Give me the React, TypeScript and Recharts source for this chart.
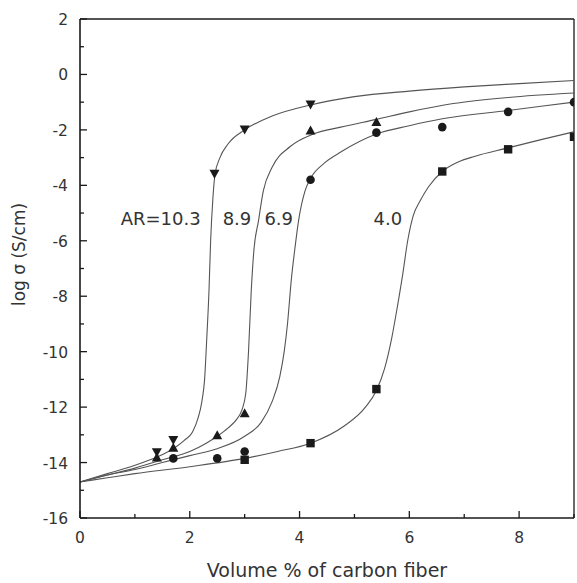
import {
  ComposedChart,
  Line,
  Scatter,
  XAxis,
  YAxis,
  ReferenceLine,
  ReferenceDot,
} from "recharts";

// measured points (volume %, log sigma)
const ar103X = [1.4, 1.7, 2.45, 3.0, 4.2];
const ar103Y = [-13.65, -13.2, -3.6, -2.0, -1.1];
const ar89X = [1.4, 1.7, 2.5, 3.0, 4.2, 5.4];
const ar89Y = [-13.8, -13.45, -13.0, -12.2, -2.0, -1.7];
const ar69X = [1.7, 2.5, 3.0, 4.2, 5.4, 6.6, 7.8, 9.0];
const ar69Y = [-13.85, -13.85, -13.6, -3.8, -2.1, -1.9, -1.35, -1.0];
const ar40X = [3.0, 4.2, 5.4, 6.6, 7.8, 9.0];
const ar40Y = [-13.9, -13.3, -11.35, -3.5, -2.7, -2.25];

// fitted curves
const fit103X = [0, 0.5, 1.0, 1.4, 1.7, 1.9, 2.05, 2.15, 2.22, 2.27, 2.31, 2.35, 2.38, 2.42, 2.46, 2.55, 2.7, 3.0, 3.5, 4.2, 5.0, 6.0, 7.0, 8.0, 9.0];
const fit103Y = [-14.7, -14.4, -14.1, -13.8, -13.5, -13.2, -12.9, -12.4, -11.8, -11.0, -9.5, -7.8, -6.0, -4.5, -3.6, -3.0, -2.5, -2.0, -1.5, -1.1, -0.8, -0.6, -0.45, -0.33, -0.22];
const fit89X = [0, 0.5, 1.0, 1.5, 2.0, 2.3, 2.5, 2.7, 2.85, 2.95, 3.02, 3.07, 3.12, 3.17, 3.25, 3.34, 3.5, 3.83, 4.25, 4.75, 5.4, 6.0, 6.8, 7.8, 9.0];
const fit89Y = [-14.7, -14.45, -14.2, -13.9, -13.6, -13.3, -13.05, -12.75, -12.45, -12.1, -11.5, -10.0, -7.8, -6.3, -5.3, -4.2, -3.35, -2.6, -2.15, -1.9, -1.62, -1.35, -1.05, -0.83, -0.67];
const fit69X = [0, 0.5, 1.0, 1.5, 2.0, 2.5, 3.0, 3.3, 3.5, 3.64, 3.72, 3.78, 3.85, 3.92, 3.98, 4.1, 4.2, 4.45, 4.75, 5.4, 6.0, 6.6, 7.8, 9.0];
const fit69Y = [-14.7, -14.45, -14.25, -14.0, -13.75, -13.5, -13.05, -12.55, -11.8, -10.9, -10.0, -9.0, -7.4, -6.2, -5.3, -4.2, -3.75, -3.2, -2.8, -2.15, -1.85, -1.6, -1.3, -1.0];
const fit40X = [0, 0.5, 1.0, 2.0, 3.0, 3.6, 4.2, 4.8, 5.2, 5.4, 5.55, 5.68, 5.78, 5.88, 5.97, 6.07, 6.2, 6.35, 6.6, 6.9, 7.2, 7.8, 8.4, 9.0];
const fit40Y = [-14.7, -14.55, -14.4, -14.15, -13.85, -13.6, -13.3, -12.7, -12.0, -11.4, -10.6, -9.5, -8.4, -7.2, -6.0, -5.1, -4.55, -4.05, -3.5, -3.15, -2.95, -2.65, -2.35, -2.07];

const xTicks = [0, 1, 2, 3, 4, 5, 6, 7, 8, 9];
const yTicks = [-16, -15, -14, -13, -12, -11, -10, -9, -8, -7, -6, -5, -4, -3, -2, -1, 0, 1, 2];

const curveLabels = ["AR=10.3", "8.9", "6.9", "4.0"];
const curveLabelX = [1.47, 2.86, 3.62, 5.61];
const curveLabelY = [-5.2, -5.2, -5.2, -5.2];

const zip = (xs: number[], ys: number[]) => xs.map((x, i) => ({ x, y: ys[i] }));

const FONT = "'DejaVu Sans', sans-serif";
const INK = "#1a1a1a";

function XTick(props: any) {
  const { x, y, payload } = props;
  const v = payload.value;
  const major = v % 2 === 0;
  return (
    <g>
      <line x1={x} x2={x} y1={y} y2={y - (major ? 7 : 4)} stroke={INK} strokeWidth={1.3} />
      {major && (
        <text x={x} y={y + 25} textAnchor="middle" fontSize={15.5} fontFamily={FONT} fill="#333">
          {v}
        </text>
      )}
    </g>
  );
}

function YTick(props: any) {
  const { x, y, payload } = props;
  const v = payload.value;
  const major = v % 2 === 0;
  return (
    <g>
      <line x1={x} x2={x + (major ? 7 : 4)} y1={y} y2={y} stroke={INK} strokeWidth={1.3} />
      {major && (
        <text x={x - 12} y={y + 6} textAnchor="end" fontSize={15.5} fontFamily={FONT} fill="#333">
          {v}
        </text>
      )}
    </g>
  );
}

const DownTri = (p: any) => (
  <path d={`M${p.cx - 5},${p.cy - 4.5} L${p.cx + 5},${p.cy - 4.5} L${p.cx},${p.cy + 4.5} Z`} fill={INK} />
);
const UpTri = (p: any) => (
  <path d={`M${p.cx - 5},${p.cy + 4.5} L${p.cx + 5},${p.cy + 4.5} L${p.cx},${p.cy - 4.5} Z`} fill={INK} />
);
const Dot = (p: any) => <circle cx={p.cx} cy={p.cy} r={4.3} fill={INK} />;
const Sq = (p: any) => <rect x={p.cx - 4.2} y={p.cy - 4.2} width={8.4} height={8.4} fill={INK} />;

function YTitle(props: any) {
  const { viewBox } = props;
  const cx = viewBox.x + 19;
  const cy = viewBox.y + viewBox.height / 2 - 14;
  return (
    <text
      x={cx}
      y={cy}
      transform={`rotate(-90 ${cx} ${cy})`}
      textAnchor="middle"
      dominantBaseline="central"
      fontSize={17}
      fontFamily={FONT}
      fill="#333"
    >
      log σ (S/cm)
    </text>
  );
}

const curves = [
  { key: "fit103", data: zip(fit103X, fit103Y) },
  { key: "fit89", data: zip(fit89X, fit89Y) },
  { key: "fit69", data: zip(fit69X, fit69Y) },
  { key: "fit40", data: zip(fit40X, fit40Y) },
];

export default function App() {
  return (
    <div style={{ position: "fixed", left: 0, top: 0, background: "#fff" }}>
      <ComposedChart width={577} height={583} margin={{ top: 19, right: 3, bottom: 0, left: 0 }}>
        <XAxis
          type="number"
          dataKey="x"
          domain={[0, 9]}
          ticks={xTicks}
          interval={0}
          allowDataOverflow
          height={65}
          tickSize={0}
          tickMargin={0}
          tickLine={false}
          tick={<XTick />}
          axisLine={{ stroke: INK, strokeWidth: 1.6 }}
          label={{
            value: "Volume % of carbon fiber",
            position: "insideBottom",
            offset: 6,
            fontSize: 19,
            fontFamily: FONT,
            fill: "#333",
          }}
        />
        <YAxis
          type="number"
          dataKey="y"
          domain={[-16, 2]}
          ticks={yTicks}
          interval={0}
          allowDataOverflow
          width={80}
          tickSize={0}
          tickMargin={0}
          tickLine={false}
          tick={<YTick />}
          axisLine={{ stroke: INK, strokeWidth: 1.6 }}
          label={{ content: <YTitle /> }}
        />
        <ReferenceLine y={2} stroke={INK} strokeWidth={1.3} />
        <ReferenceLine x={9} stroke={INK} strokeWidth={1.3} />
        {curves.map((c) => (
          <Line
            key={c.key}
            data={c.data}
            dataKey="y"
            type="monotone"
            stroke="#555"
            strokeWidth={1.1}
            dot={false}
            activeDot={false}
            isAnimationActive={false}
          />
        ))}
        <Scatter data={zip(ar103X, ar103Y)} shape={DownTri} isAnimationActive={false} />
        <Scatter data={zip(ar89X, ar89Y)} shape={UpTri} isAnimationActive={false} />
        <Scatter data={zip(ar69X, ar69Y)} shape={Dot} isAnimationActive={false} />
        <Scatter data={zip(ar40X, ar40Y)} shape={Sq} isAnimationActive={false} />
        {curveLabels.map((t, i) => (
          <ReferenceDot
            key={t}
            x={curveLabelX[i]}
            y={curveLabelY[i]}
            r={0}
            fill="none"
            stroke="none"
            label={{ value: t, position: "center", fontSize: 18, fontFamily: FONT, fill: "#333" }}
          />
        ))}
      </ComposedChart>
    </div>
  );
}
